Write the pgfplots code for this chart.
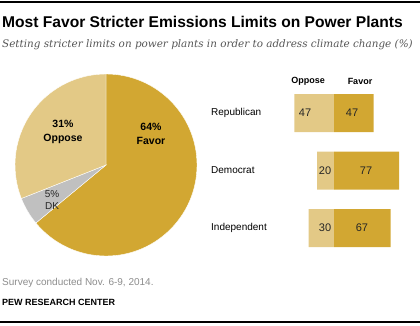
\documentclass[border=0pt]{standalone}
\usepackage{fontspec}
\setmainfont{Liberation Sans}
\newfontfamily\subfont{DejaVu Serif}
\usepackage{pgfplots}
\pgfplotsset{compat=1.18}
\definecolor{favor}{HTML}{D2A732}
\definecolor{oppose}{HTML}{E3C986}
\definecolor{dk}{HTML}{C0C0C0}
\definecolor{subgray}{HTML}{555555}
\definecolor{footgray}{HTML}{8C8C8C}
\begin{document}
\begin{tikzpicture}[x=1pt,y=1pt]
\path[use as bounding box] (0pt,0pt) rectangle (420pt,325pt);
\draw[line width=1.5pt] (0pt,323pt) -- (420pt,323pt);
\draw[line width=1.2pt] (0pt,3pt) -- (420pt,3pt);
\node[anchor=base west, inner sep=0, font=\bfseries\fontsize{15.6}{17}\selectfont] at (2pt,298pt) {Most Favor Stricter Emissions Limits on Power Plants};
\node[anchor=base west, inner sep=0, text=subgray, font=\subfont\itshape\fontsize{10.4}{12}\selectfont] at (2pt,278pt) {Setting stricter limits on power plants in order to address climate change (\%)};

% pie
\begin{axis}[at={(106pt,160pt)}, anchor=center, scale only axis, width=182pt, height=182pt,
  xmin=-1, xmax=1, ymin=-1, ymax=1, hide axis, clip=false]
\fill[favor, draw=white, line width=0.4pt] (axis cs:0,0) -- ++(90:91pt) arc[start angle=90, delta angle=-3.6*64, radius=91pt] -- cycle;
\fill[dk, draw=white, line width=0.4pt] (axis cs:0,0) -- ++(90-3.6*64:91pt) arc[start angle=90-3.6*64, delta angle=-3.6*5, radius=91pt] -- cycle;
\fill[oppose, draw=white, line width=0.4pt] (axis cs:0,0) -- ++(90-3.6*69:91pt) arc[start angle=90-3.6*69, delta angle=-3.6*31, radius=91pt] -- cycle;
\end{axis}
\node[font=\bfseries\fontsize{10.5}{14}\selectfont, align=center] at (63pt,193pt) {31\%\\Oppose};
\node[font=\bfseries\fontsize{10.5}{14}\selectfont, align=center] at (151pt,191pt) {64\%\\Favor};
\node[font=\fontsize{10}{12}\selectfont, align=center, text=black!85] at (52pt,125pt) {5\%\\DK};

% bars
\begin{axis}[at={(291.75pt,68.25pt)}, anchor=south west, scale only axis, width=109.85pt, height=172.5pt,
  xmin=-50, xmax=80, ymin=-0.5, ymax=2.5, y dir=reverse, hide axis, xbar, bar width=38pt, bar shift=0pt, clip=false]
\addplot[fill=oppose, draw=none] coordinates {(-47,0) (-20,1) (-30,2)};
\addplot[fill=favor, draw=none] coordinates {(47,0) (77,1) (67,2)};
\node[font=\fontsize{11}{12}\selectfont, text=black!85] at (axis cs:-34.3,0) {47};
\node[font=\fontsize{11}{12}\selectfont, text=black!85] at (axis cs:-10.6,1) {20};
\node[font=\fontsize{11}{12}\selectfont, text=black!85] at (axis cs:-10.6,2) {30};
\node[font=\fontsize{11}{12}\selectfont, text=black!85] at (axis cs:21.3,0) {47};
\node[font=\fontsize{11}{12}\selectfont, text=black!85] at (axis cs:37.9,1) {77};
\node[font=\fontsize{11}{12}\selectfont, text=black!85] at (axis cs:33.1,2) {67};
\end{axis}
\node[font=\bfseries\fontsize{9}{10}\selectfont] at (308pt,244pt) {Oppose};
\node[font=\bfseries\fontsize{9}{10}\selectfont] at (360pt,244pt) {Favor};
\node[anchor=west, inner sep=0, font=\fontsize{10}{12}\selectfont] at (211pt,212pt) {Republican};
\node[anchor=west, inner sep=0, font=\fontsize{10}{12}\selectfont] at (211pt,155pt) {Democrat};
\node[anchor=west, inner sep=0, font=\fontsize{10}{12}\selectfont] at (211pt,97pt) {Independent};

\node[anchor=west, inner sep=0, text=footgray, font=\fontsize{10}{12}\selectfont] at (2pt,42pt) {Survey conducted Nov. 6-9, 2014.};
\node[anchor=west, inner sep=0, font=\bfseries\fontsize{9}{10}\selectfont] at (2pt,23pt) {PEW RESEARCH CENTER};
\end{tikzpicture}
\end{document}
